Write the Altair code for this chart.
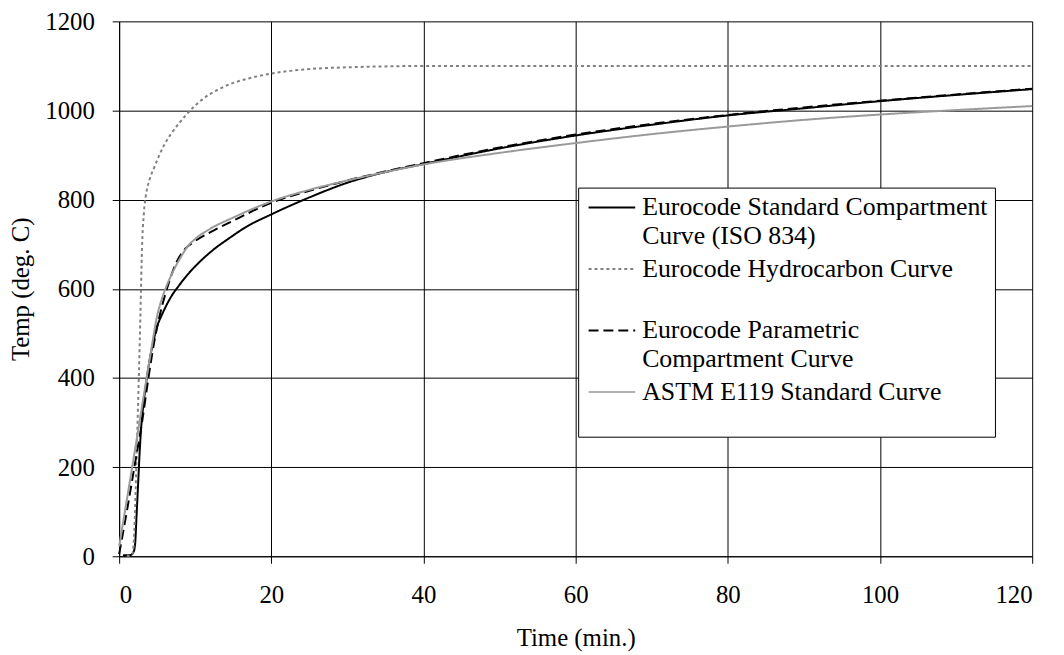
import altair as alt
import pandas as pd

# ---------------- data ----------------
series_names = [
    "Eurocode Standard Compartment Curve (ISO 834)",
    "Eurocode Hydrocarbon Curve",
    "Eurocode Parametric Compartment Curve",
    "ASTM E119 Standard Curve",
]

iso_time = [0.5, 1.5, 1.9, 2.1, 2.3, 2.5, 2.7, 2.9, 3.2, 3.6, 4.0, 4.5, 5.0, 5.6, 6.3, 7.0, 7.8,
            9.0, 10.2, 12.4, 14.5, 16.7, 20, 25, 30, 35, 40, 50, 60, 70, 80, 90, 100, 110, 120]
iso_temp = [2, 3, 10, 28, 95, 165, 235, 290, 342, 395, 440, 482, 516, 541, 566, 587, 606,
            632, 654, 688, 714, 739, 767, 805, 838, 862, 880, 915, 944, 968, 989, 1005, 1021, 1035, 1048]

hc_time = [1.0, 1.7, 2.0, 2.3, 2.6, 2.8, 3.0, 3.25, 3.5, 4.0, 4.6, 5.9, 7.0, 8.0, 9.0, 11, 13,
           15, 17, 20, 25, 30, 35, 40, 60, 80, 100, 120]
hc_temp = [1, 3, 60, 230, 410, 545, 690, 770, 808, 845, 872, 922, 952, 974, 994, 1026, 1047,
           1062, 1072, 1083, 1093, 1097, 1099, 1100, 1100, 1100, 1100, 1100]

par_time = [0, 1, 2, 3, 3.85, 4.6, 5.4, 6.5, 7.6, 8.7, 9.8, 12, 15, 20, 25, 30, 40, 50, 60,
            70, 80, 90, 100, 110, 120]
par_temp = [5, 100, 200, 300, 400, 480, 545, 612, 662, 690, 705, 727, 753, 793, 820, 843, 882,
            917, 946, 970, 990, 1007, 1022, 1036, 1049]

astm_time = [0, 2, 4, 5, 6, 7, 8, 9, 10, 12, 15, 20, 25, 30, 35, 40, 50, 60, 70, 80, 90, 100,
             110, 120]
astm_temp = [22, 230, 440, 540, 596, 636, 668, 695, 712, 735, 760, 796, 822, 843, 862, 879, 905,
             927, 947, 964, 979, 991, 1001, 1010]

x_ticks = [0, 20, 40, 60, 80, 100, 120]
y_ticks = [0, 200, 400, 600, 800, 1000, 1200]

legend_lines = [
    ["Eurocode Standard Compartment", "Curve (ISO 834)"],
    ["Eurocode Hydrocarbon Curve"],
    ["Eurocode Parametric", "Compartment Curve"],
    ["ASTM E119 Standard Curve"],
]

# ---------------- styles ----------------
colors = ["#000000", "#808080", "#000000", "#9a9a9a"]
dashes = [[1, 0], [3, 3], [10, 5], [1, 0]]
widths = [2, 2, 2, 1.6]
FONT = "Liberation Serif, Times New Roman, DejaVu Serif, serif"

rows = []
for name, ts, vs in zip(series_names,
                        [iso_time, hc_time, par_time, astm_time],
                        [iso_temp, hc_temp, par_temp, astm_temp]):
    for t, v in zip(ts, vs):
        rows.append({"series": name, "time": t, "temp": v})
df = pd.DataFrame(rows)

W, H = 920, 539

x_axis = alt.Axis(values=x_ticks, format="d", grid=True, gridColor="black", gridOpacity=1, gridWidth=1,
                  domainColor="black", tickColor="black", tickSize=7, labelPadding=20,
                  labelFont=FONT, labelFontSize=25, labelColor="black",
                  title="Time (min.)", titleFont=FONT, titleFontSize=25, titleFontWeight="normal",
                  titleColor="black", titleX=W / 2, titleY=90, titleBaseline="alphabetic",
                  titleAlign="center")
y_axis = alt.Axis(values=y_ticks, format="d", grid=True, gridColor="black", gridOpacity=1, gridWidth=1,
                  domainColor="black", tickColor="black", tickSize=7, labelPadding=18,
                  labelFont=FONT, labelFontSize=25, labelColor="black",
                  title="Temp (deg. C)", titleFont=FONT, titleFontSize=25, titleFontWeight="normal",
                  titleColor="black", titleX=-91, titleY=H / 2, titleAngle=270,
                  titleBaseline="alphabetic", titleAlign="center")

lines = alt.Chart(df).mark_line(interpolate="monotone").encode(
    x=alt.X("time:Q", scale=alt.Scale(domain=[0, 120], nice=False, zero=False), axis=x_axis),
    y=alt.Y("temp:Q", scale=alt.Scale(domain=[0, 1200], nice=False), axis=y_axis),
    color=alt.Color("series:N", scale=alt.Scale(domain=series_names, range=colors), legend=None),
    strokeDash=alt.StrokeDash("series:N", scale=alt.Scale(domain=series_names, range=dashes), legend=None),
    strokeWidth=alt.StrokeWidth("series:N", scale=alt.Scale(domain=series_names, range=widths), legend=None),
)

one = pd.DataFrame({"k": [0]})

# manual legend box
LX0, LX1, LY0, LY1 = 463, 883, 168, 419
box = alt.Chart(one).mark_rect(fill="white", stroke="black", strokeWidth=1).encode(
    x=alt.value(LX0), x2=alt.value(LX1), y=alt.value(LY0), y2=alt.value(LY1))

layers = [lines, box]
first_baseline = 195.5
entry_gap = 62
line_gap = 29
for i, (name, texts) in enumerate(zip(series_names, legend_lines)):
    base = first_baseline + entry_gap * i
    layers.append(
        alt.Chart(one).mark_rule(color=colors[i], strokeDash=dashes[i], strokeWidth=widths[i]).encode(
            x=alt.value(473), x2=alt.value(520), y=alt.value(base - 8))
    )
    for j, txt in enumerate(texts):
        layers.append(
            alt.Chart(one).mark_text(align="left", baseline="alphabetic", font=FONT, fontSize=26,
                                     color="black").encode(
                x=alt.value(527), y=alt.value(base + line_gap * j), text=alt.value(txt))
        )

chart = alt.layer(*layers).properties(
    width=W, height=H,
    autosize=alt.AutoSizeParams(type="none"),
    padding={"left": 112, "top": 11, "right": 24, "bottom": 97},
    background="white",
).configure_view(strokeWidth=0)

chart.save("out.html", embed_options={"renderer": "svg", "actions": False})
